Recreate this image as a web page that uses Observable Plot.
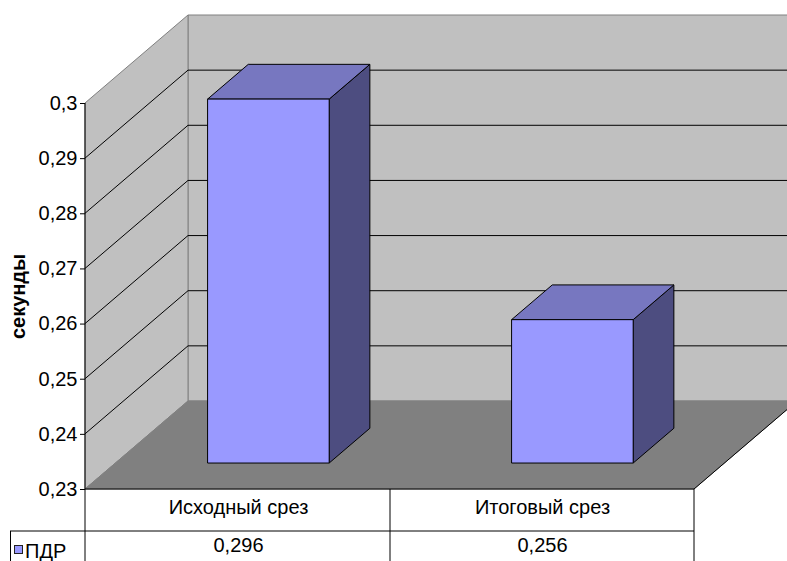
<!DOCTYPE html>
<html><head><meta charset="utf-8">
<script src="https://cdn.jsdelivr.net/npm/d3@7"></script>
<script src="https://cdn.jsdelivr.net/npm/@observablehq/plot@0.6"></script>
<style>body{margin:0;background:#fff;} svg{display:block;}</style>
</head><body><div id="chart"></div>
<script>
// ---- data ----
const categories = ["Исходный срез", "Итоговый срез"];
const seriesName = "ПДР";
const values = [0.296, 0.256];
const valueLabels = ["0,296", "0,256"];
const yTicks = [0.23, 0.24, 0.25, 0.26, 0.27, 0.28, 0.29, 0.3];
const yTickLabels = ["0,23", "0,24", "0,25", "0,26", "0,27", "0,28", "0,29", "0,3"];
const yLabel = "секунды";

// ---- style / geometry ----
const W = 787, H = 561;
const DEPTH_X = 103, DEPTH_Y = -88;      // wall depth offset in px
const BAR_Z0 = 0.295, BAR_Z1 = 0.69;     // bar depth span (fraction of wall depth)
const BAR_FRAC = 0.4;                     // bar width as fraction of band
const FONT = "Liberation Sans, Arial, sans-serif";
const FS = 20;
const C = {wall: "#c0c0c0", floor: "#808080", edge: "#808080",
  front: "#9999ff", top: "#7777c0", side: "#4d4d80"};

const ns = "http://www.w3.org/2000/svg";
function el(tag, attrs) {
  const e = document.createElementNS(ns, tag);
  for (const k in attrs) e.setAttribute(k, attrs[k]);
  return e;
}
function poly(pts, fill, stroke, sw = 1) {
  return el("polygon", {points: pts.map(p => p.join(",")).join(" "), fill, stroke: stroke || "none", "stroke-width": sw, "stroke-linejoin": "miter"});
}
function line(x1, y1, x2, y2, stroke, sw = 1) {
  return el("line", {x1, y1, x2, y2, stroke, "stroke-width": sw});
}
function findScales(args) {
  for (const a of args) if (a && typeof a.x === "function" && typeof a.y === "function") return a;
  return null;
}
function findDims(args) {
  for (const a of args) if (a && typeof a.width === "number" && typeof a.marginLeft === "number") return a;
  return null;
}
function frameGeom(args) {
  const s = findScales(args), d = findDims(args);
  const left = d.marginLeft, right = d.width - d.marginRight;
  const bottom = s.y(yTicks[0]), top = s.y(yTicks[yTicks.length - 1]);
  const bw = typeof s.x.bandwidth === "function" ? s.x.bandwidth() : (right - left) / categories.length;
  return {s, d, left, right, bottom, top, bw};
}

// walls, floor, gridlines
function wallsMark(...args) {
  const {s, d, left, right, bottom, top} = frameGeom(args);
  const g = el("g", {});
  const bx = left + DEPTH_X, by = DEPTH_Y;
  const far = right + DEPTH_X;
  g.appendChild(poly([[bx, top + by], [far, top + by], [far, bottom + by], [bx, bottom + by]], C.wall, C.edge));
  g.appendChild(poly([[left, top], [bx, top + by], [bx, bottom + by], [left, bottom]], C.wall, C.edge));
  g.appendChild(poly([[left, bottom], [right, bottom], [far, bottom + by], [bx, bottom + by]], C.floor, C.edge));
  for (const t of yTicks.slice(1, -1)) {
    const y = s.y(t);
    g.appendChild(line(left, y, bx, y + by, "#000"));
    g.appendChild(line(bx, y + by, far, y + by, "#000"));
  }
  g.appendChild(line(left, bottom, right, bottom, "#000"));
  g.appendChild(line(right, bottom, far, bottom + by, "#000"));
  g.appendChild(line(left, top, left, bottom, "#000"));
  return g;
}

// 3D bars
function barsMark(...args) {
  const {s, bottom, bw} = frameGeom(args);
  const g = el("g", {});
  const ox = DEPTH_X * BAR_Z0, oy = DEPTH_Y * BAR_Z0;
  const dx = DEPTH_X * (BAR_Z1 - BAR_Z0), dy = DEPTH_Y * (BAR_Z1 - BAR_Z0);
  categories.forEach((c, i) => {
    const x0 = s.x(c) + bw * (1 - BAR_FRAC) / 2 + ox;
    const x1 = x0 + bw * BAR_FRAC;
    const yb = bottom + oy, yt = s.y(values[i]) + oy;
    g.appendChild(poly([[x1, yt], [x1 + dx, yt + dy], [x1 + dx, yb + dy], [x1, yb]], C.side, "#000"));
    g.appendChild(poly([[x0, yt], [x0 + dx, yt + dy], [x1 + dx, yt + dy], [x1, yt]], C.top, "#000"));
    g.appendChild(poly([[x0, yt], [x1, yt], [x1, yb], [x0, yb]], C.front, "#000"));
  });
  return g;
}

// data table grid + legend key
function tableMark(...args) {
  const {s, d, left, right, bottom, bw} = frameGeom(args);
  const g = el("g", {});
  const row1 = bottom + 42, endY = d.height;
  g.appendChild(line(10, row1, right, row1, "#000"));
  g.appendChild(line(10.5, row1, 10.5, endY, "#000"));
  const xs = [left, ...categories.map(c => s.x(c) + bw)];
  for (const x of xs) g.appendChild(line(x, bottom, x, endY, "#000"));
  g.appendChild(el("rect", {x: 14.5, y: row1 + 14.5, width: 8, height: 8, fill: C.front, stroke: "#222", "stroke-width": 1}));
  const t = el("text", {x: 25, y: row1 + 19.5, "font-size": FS, "font-family": FONT, "text-anchor": "start", dy: "0.35em", fill: "#000"});
  t.textContent = seriesName;
  g.appendChild(t);
  return g;
}

const rows = categories.map((c, i) => ({c, v: values[i], label: valueLabels[i]}));
const yMid = (yTicks[0] + yTicks[yTicks.length - 1]) / 2;

const plot = Plot.plot({
  width: W, height: H,
  marginLeft: 85, marginRight: 93, marginTop: 103, marginBottom: 72,
  style: {fontFamily: FONT, fontSize: FS + "px", background: "#fff", color: "#000"},
  x: {type: "band", domain: categories, padding: 0, axis: null},
  y: {domain: [yTicks[0], yTicks[yTicks.length - 1]], axis: null},
  marks: [
    wallsMark,
    barsMark,
    tableMark,
    Plot.axisY(yTicks, {
      tickFormat: d => yTickLabels[yTicks.findIndex(t => Math.abs(t - d) < 1e-9)],
      tickSize: 5, tickPadding: 3, fontSize: FS, label: null, stroke: "#000"
    }),
    Plot.text([yLabel], {y: () => yMid, frameAnchor: "left", dx: -67, rotate: -90, textAnchor: "middle", fontWeight: "bold", fontSize: FS, text: d => d}),
    Plot.text(rows, {x: "c", text: "c", frameAnchor: "bottom", dy: 24, fontSize: FS}),
    Plot.text(rows, {x: "c", text: "label", frameAnchor: "bottom", dy: 62, fontSize: FS})
  ]
});
document.getElementById("chart").appendChild(plot);
</script>
</body></html>
